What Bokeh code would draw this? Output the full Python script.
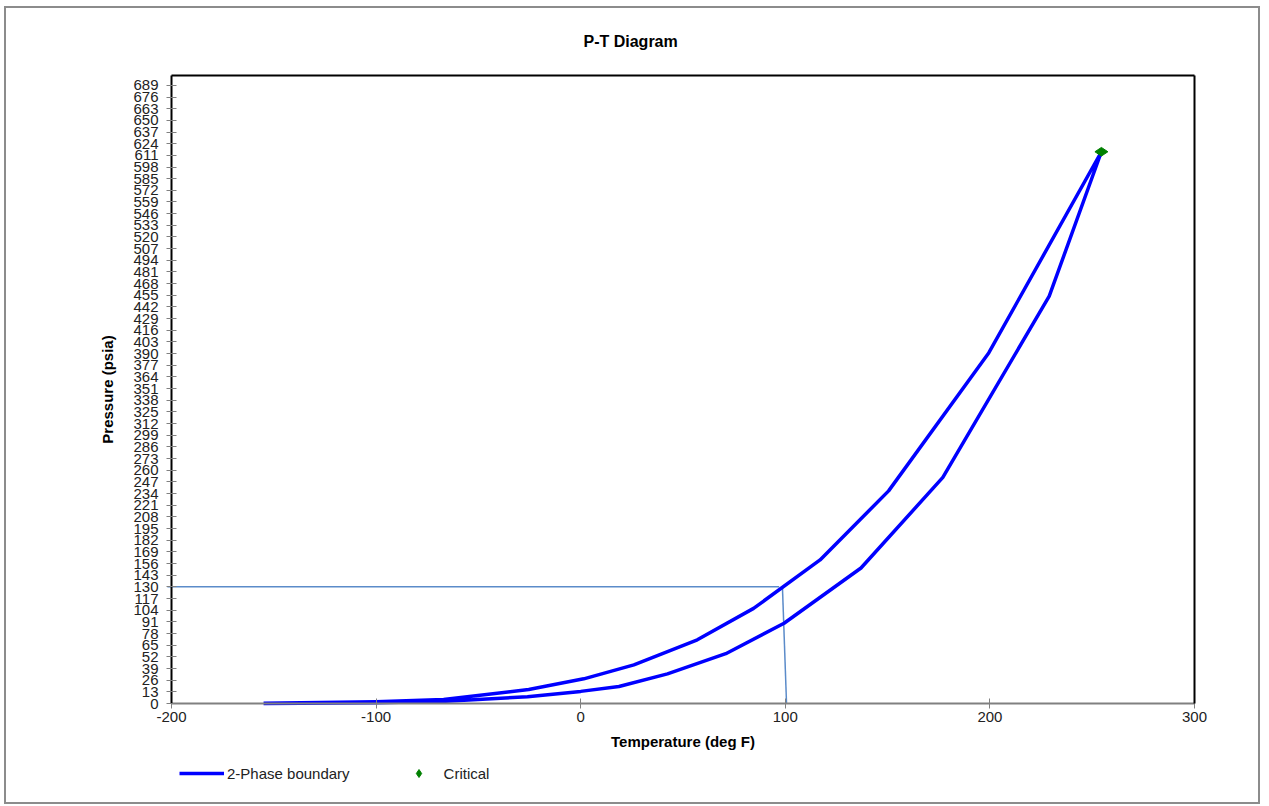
from bokeh.plotting import figure
from bokeh.models import (Range1d, FixedTicker, Legend, LegendItem, ColumnDataSource,
                          LinearAxis)
from bokeh.embed import file_html
from bokeh.resources import INLINE
import math

# ---- data ----
# bubble-point branch (upper curve), low T -> critical
bubble_T = [-155, -100, -67, -25.4, 1.5, 26, 57, 84.5, 117, 150.5, 199.5, 254.5]
bubble_P = [0.2, 2.0, 4.5, 15.6, 27.5, 43, 71, 106, 160, 237, 391, 615]
# dew-point branch (lower curve), critical -> low T
dew_T = [254.5, 229, 177, 137, 99.4, 70.9, 42.4, 18.7, 0, -26, -66, -100, -155]
dew_P = [615, 454, 252, 151, 89.5, 55.5, 33, 19, 13.5, 7.5, 2.5, 0.8, 0]

critical_T = [254.5]
critical_P = [615]

# read-off guide lines (P = 130 psia at ~100 deg F)
guide_h_T = [-202, 97]
guide_h_P = [130, 130]
guide_v_T = [98.6, 100.6]
guide_v_P = [130, 0]

x_ticks = [-200, -100, 0, 100, 200, 300]
x_tick_labels = ["-200", "-100", "0", "100", "200", "300"]
y_ticks = [0, 13, 26, 39, 52, 65, 78, 91, 104, 117, 130, 143, 156, 169, 182, 195,
           208, 221, 234, 247, 260, 273, 286, 299, 312, 325, 338, 351, 364, 377,
           390, 403, 416, 429, 442, 455, 468, 481, 494, 507, 520, 533, 546, 559,
           572, 585, 598, 611, 624, 637, 650, 663, 676, 689]

x_min, x_max = -200, 300
y_min, y_max = 0, 700

title_text = "P-T Diagram"
x_label = "Temperature (deg F)"
y_label = "Pressure (psia)"
series_name = "2-Phase boundary"
critical_name = "Critical"

FONT = "Liberation Sans"

boundary = ColumnDataSource(dict(T=bubble_T + dew_T, P=bubble_P + dew_P))

# Page-pixel layout: the drawing frame covers the axes' texts and the legend too,
# the plot box itself (-200..300 x 0..700) sits at x 171..1194, y 75..703.
BOX_L, BOX_R, BOX_T, BOX_B = 171, 1194, 75, 703
FRAME_L, FRAME_R, FRAME_T, FRAME_B = 16, 1252, 71, 796
px_x = (BOX_R - BOX_L) / (x_max - x_min)
px_y = (BOX_B - BOX_T) / (y_max - y_min)
x_view = (x_min - (BOX_L - FRAME_L) / px_x, x_max + (FRAME_R - BOX_R) / px_x)
y_view = (y_min - (FRAME_B - BOX_B) / px_y, y_max + (BOX_T - FRAME_T) / px_y)

p = figure(width=1256, height=798,
           x_range=Range1d(*x_view), y_range=Range1d(*y_view),
           output_backend="svg", toolbar_location=None,
           min_border_left=10, min_border_right=10,
           min_border_top=FRAME_T - 8, min_border_bottom=10)
p.margin = (6, 0, 0, 4)
p.styles = {"border": "2px solid #8c8c8c"}
p.background_fill_color = "white"
p.border_fill_color = "white"
p.outline_line_color = None

p.title.text = title_text
p.title.align = "left"
p.title.offset = 412 + (BOX_L - FRAME_L)
p.title.standoff = 44
p.title.text_font = FONT
p.title.text_font_size = "16px"
p.title.text_font_style = "bold"
p.title.text_color = "black"

p.grid.visible = False

# guide lines
p.line(guide_h_T, guide_h_P, line_color="#5b8bc9", line_width=1.5)
p.line(guide_v_T, guide_v_P, line_color="#5b8bc9", line_width=1.5)

line_r = p.line("T", "P", source=boundary, line_color="#0000ff", line_width=3.5,
                line_join="round")
crit_r = p.scatter(critical_T, critical_P, marker="diamond", size=13, angle=math.pi / 2,
                   fill_color="#008000", line_color="#008000")

for ax in (p.xaxis[0], p.yaxis[0]):
    ax.minor_tick_line_color = None
    ax.major_tick_in = 5
    ax.major_tick_out = 5
    ax.major_tick_line_color = "#808080"
    ax.major_tick_line_width = 1
    ax.major_label_text_font = FONT
    ax.major_label_text_font_size = "15px"
    ax.major_label_text_color = "#222222"
    ax.axis_label_text_font = FONT
    ax.axis_label_text_font_size = "15px"
    ax.axis_label_text_font_style = "bold"
    ax.axis_label_text_color = "black"
    ax.axis_line_width = 2

p.xaxis.ticker = FixedTicker(ticks=x_ticks)
p.xaxis.major_label_overrides = dict(zip(x_ticks, x_tick_labels))
p.xaxis.fixed_location = y_min
p.xaxis.bounds = (x_min, x_max)
p.xaxis.axis_label = x_label
p.xaxis.axis_line_color = "#808080"
p.xaxis.major_label_standoff = 3
p.xaxis.axis_label_standoff = 8

p.yaxis.ticker = FixedTicker(ticks=y_ticks)
p.yaxis.fixed_location = x_min
p.yaxis.bounds = (y_min, y_max)
p.yaxis.axis_label = y_label
p.yaxis.axis_line_color = "black"
p.yaxis.major_label_standoff = 8
p.yaxis.axis_label_standoff = 14

# top and right edges of the plot box
top_edge = LinearAxis(ticker=FixedTicker(ticks=[]), fixed_location=y_max,
                      bounds=(x_min, x_max), axis_line_color="black", axis_line_width=2,
                      major_tick_in=0, major_tick_out=0, minor_tick_line_color=None)
p.add_layout(top_edge, "above")
right_edge = LinearAxis(ticker=FixedTicker(ticks=[]), fixed_location=x_max,
                        bounds=(y_min, y_max), axis_line_color="black", axis_line_width=2,
                        major_tick_in=0, major_tick_out=0, minor_tick_line_color=None)
p.add_layout(right_edge, "right")

legend = Legend(items=[LegendItem(label=series_name, renderers=[line_r]),
                       LegendItem(label=critical_name, renderers=[crit_r])],
                orientation="horizontal",
                location=(BOX_L - FRAME_L + 8, 13),
                glyph_width=45, glyph_height=20, label_standoff=3, spacing=46,
                padding=9, margin=0, border_line_color=None,
                background_fill_alpha=0,
                label_text_font=FONT, label_text_font_size="15px",
                label_text_color="#222222")
p.add_layout(legend, "center")

open("out.html", "w").write(file_html(p, INLINE))
